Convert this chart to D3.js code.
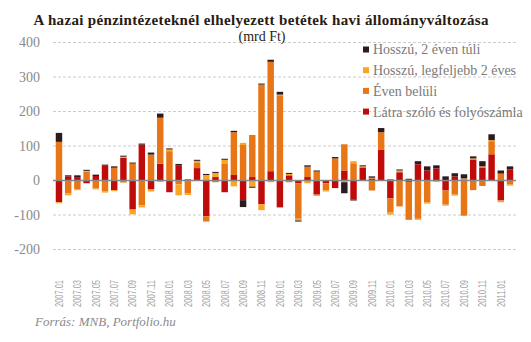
<!DOCTYPE html>
<html>
<head>
    <meta charset="utf-8">
    <title>Betétek havi állományváltozása</title>
    <script src="https://d3js.org/d3.v7.min.js"></script>
    <style>
        body { margin: 0; background: white; }
        .ylab { font-family: "Liberation Serif", serif; font-size: 14px; fill: #8a8a8a; }
        .xlab { font-family: "Liberation Sans", sans-serif; font-size: 11px; fill: #a0a0a0; }
        .leg { font-family: "Liberation Serif", serif; font-size: 14px; fill: #7a7a7a; }
    </style>
</head>
<body>
<script>
    // honapok 2007.01 - 2011.02
    var months = [];
    for (var y = 2007; y <= 2011; y++) {
        for (var m = 1; m <= 12; m++) {
            if (y == 2011 && m > 2) break;
            months.push(y + "." + (m < 10 ? "0" + m : m));
        }
    }

    var latra    = [-63, 12, 8, -8, 13, 43, -28, 66, -84, 104, -26, 49,
                    -34, 43, -3, 36, -104, 10, -34, 16, -57, 10, -69, 27,
                    -78, 15, -8, 10, -41, -8, -22, 29, -55, 38, 6, 90,
                    -52, 24, -4, 47, 29, 35, -29, 12, 3, 61, 38, 76,
                    -58, 32];
    var evenBelul = [112, -37, -25, 26, -23, -32, 37, -6, 49, -72, 75, 133,
                    85, -11, -34, 15, -15, -5, 48, 124, 103, 122, 278, 317,
                    247, -5, -103, 30, 26, -20, 64, 76, 50, 0, -29, 50,
                    -41, -75, -110, -111, -64, 0, -41, -41, -102, -28, -16, 38,
                    20, -12];
    var legf2    = [-3, -6, -3, 2, -3, -3, -3, 3, -14, -6, -6, -4,
                    5, -32, -5, 6, 16, 12, 12, -17, 6, -18, -17, -5,
                    2, 4, -5, -8, -4, -4, 0, -5, 6, 3, 2, 0,
                    -6, 5, 2, -3, -3, -4, -3, -3, 3, 3, 3, 3,
                    -5, -3];
    var tul2     = [26, 3, 7, 3, 4, 3, 4, 3, 3, 3, 6, 12,
                    3, 5, 3, 3, 3, 3, 3, 4, -20, -3, 3, 6,
                    8, 3, -3, 4, 3, 0, 4, -32, -3, 3, 4, 12,
                    3, 3, 3, 9, 12, 9, 12, 9, 12, 6, 15, 17,
                    9, 9];
    var yTicks = [-200, -100, 0, 100, 200, 300, 400];

    var keys = ["latra", "even", "legf2", "tul2"];
    var names = {latra: "Látra szóló és folyószámla", even: "Éven belüli",
                 legf2: "Hosszú, legfeljebb 2 éves", tul2: "Hosszú, 2 éven túli"};
    var colors = d3.scaleOrdinal().domain(keys).range(["#c00b0b", "#e87616", "#f8a623", "#2b1a20"]);

    var rows = months.map(function(d, i) {
        return {month: d, latra: latra[i], even: evenBelul[i], legf2: legf2[i], tul2: tul2[i]};
    });

    var width = 531, height = 342;
    var svg = d3.select("body").append("svg").attr("width", width).attr("height", height);

    var x = d3.scaleBand().domain(months).range([53, 516]).padding(0.3);
    var yScale = d3.scaleLinear().domain([-200, 400]).range([249.5, 42.5]);

    // racsvonalak
    svg.append("g").selectAll("line").data(yTicks.filter(function(d){ return d != 0; }))
        .enter().append("line")
        .attr("x1", 53).attr("x2", 516)
        .attr("y1", function(d){ return yScale(d); }).attr("y2", function(d){ return yScale(d); })
        .attr("stroke", "#cccccc").attr("stroke-dasharray", "3,2");

    svg.append("g").selectAll("text").data(yTicks).enter().append("text")
        .classed("ylab", true)
        .attr("x", 40).attr("y", function(d){ return yScale(d); })
        .attr("dy", "0.35em").attr("text-anchor", "end")
        .text(function(d){ return d; });

    var stacked = d3.stack().keys(keys).offset(d3.stackOffsetDiverging)(rows);

    svg.append("g").selectAll("g").data(stacked).enter().append("g")
        .attr("fill", function(d){ return colors(d.key); })
        .selectAll("rect").data(function(d){ return d; }).enter().append("rect")
        .attr("x", function(d){ return x(d.data.month); })
        .attr("width", x.bandwidth())
        .attr("y", function(d){ return yScale(Math.max(d[0], d[1])); })
        .attr("height", function(d){ return Math.abs(yScale(d[0]) - yScale(d[1])); });

    // nulla vonal
    svg.append("line").attr("x1", 53).attr("x2", 516)
        .attr("y1", yScale(0)).attr("y2", yScale(0))
        .attr("stroke", "#878787").attr("stroke-width", 1.6);

    svg.append("g").selectAll("text").data(months.filter(function(d, i){ return i % 2 == 0; }))
        .enter().append("text").classed("xlab", true)
        .attr("transform", function(d){ return "translate(" + (x(d) + x.bandwidth() / 2) + ",280) rotate(-90)"; })
        .attr("dy", "0.35em").attr("text-anchor", "end")
        .attr("textLength", 27).attr("lengthAdjust", "spacingAndGlyphs")
        .text(function(d){ return d; });

    // cim
    svg.append("text").attr("x", 261).attr("y", 25).attr("text-anchor", "middle")
        .style("font-family", "Liberation Serif, serif").style("font-size", "15px")
        .style("font-weight", "bold").attr("fill", "#2a1a12")
        .attr("textLength", 455).attr("lengthAdjust", "spacing")
        .text("A hazai pénzintézeteknél  elhelyezett  betétek  havi állományváltozása");
    svg.append("text").attr("x", 262).attr("y", 41).attr("text-anchor", "middle")
        .style("font-family", "Liberation Serif, serif").style("font-size", "14px")
        .attr("fill", "#2a1a12").text("(mrd Ft)");

    // jelmagyarazat
    var legend = svg.append("g").selectAll("g").data(keys.slice().reverse()).enter().append("g")
        .attr("transform", function(d, i){ return "translate(363," + (49.5 + i * 20.7) + ")"; });
    legend.append("rect").attr("x", 0).attr("y", -3).attr("width", 6).attr("height", 6)
        .attr("fill", function(d){ return colors(d); });
    legend.append("text").classed("leg", true).attr("x", 10).attr("dy", "0.35em")
        .text(function(d){ return names[d]; });

    svg.append("text").attr("x", 35).attr("y", 326)
        .style("font-family", "Liberation Serif, serif").style("font-size", "13px")
        .style("font-style", "italic").attr("fill", "#8a8a8a")
        .text("Forrás: MNB, Portfolio.hu");
</script>
</body>
</html>
